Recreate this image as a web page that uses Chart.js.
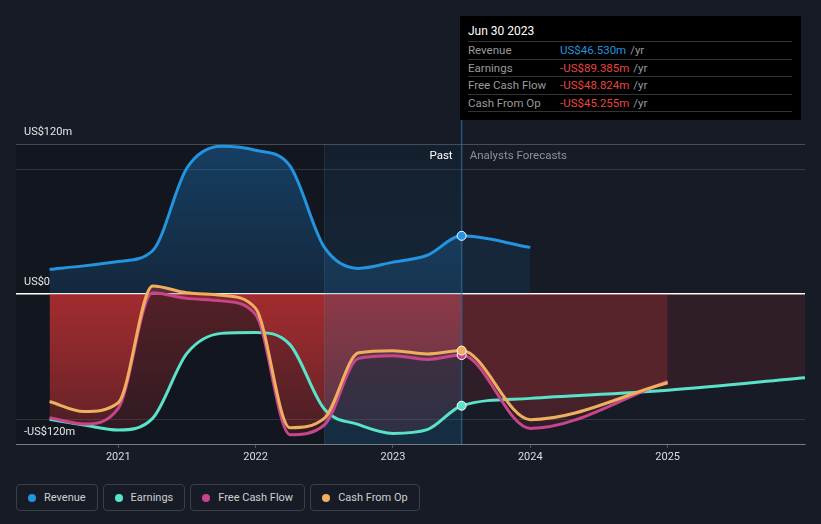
<!DOCTYPE html>
<html>
<head>
<meta charset="utf-8">
<script src="https://cdn.jsdelivr.net/npm/chart.js@4.4.0/dist/chart.umd.min.js"></script>
<style>
  html, body { margin: 0; padding: 0; background: #161b26; }
  body { width: 821px; height: 524px; position: relative; overflow: hidden; font-family: Roboto, "Noto Sans", sans-serif; }
  #wrap { position: absolute; left: 0; top: 0; width: 821px; height: 470px; }
  .tip { position: absolute; left: 460px; top: 16px; width: 341px; height: 104px; background: #000; box-sizing: border-box; padding: 0 9px 0 8px; }
  .tip .title { height: 19px; padding-top: 6px; line-height: 18px; color: #fff; font-size: 12px; border-bottom: 1px solid #333; }
  .tip .row { height: 16.5px; line-height: 17px; font-size: 11.5px; border-bottom: 1px solid #333; display: flex; }
  .tip .lab { width: 92px; color: #9a9a9a; }
  .tip .yr { color: #9a9a9a; margin-left: 4px; }
  .legend { position: absolute; left: 16px; top: 484px; display: flex; gap: 5px; }
  .legend .item { height: 27px; box-sizing: border-box; border: 1px solid #3a3f4a; border-radius: 4px; padding: 0 11px 0 11px; display: flex; align-items: center; font-size: 11px; color: #cfcfcf; }
  .legend .dot { width: 8px; height: 8px; border-radius: 50%; margin-right: 8px; }
</style>
</head>
<body>
<div id="wrap"><canvas id="financeChart" width="821" height="470"></canvas></div>
<div class="tip" id="tip"></div>
<div class="legend" id="legend"></div>
<script>
// Datos trimestrales (millones US$)
const quarters = [2020.5, 2020.75, 2021, 2021.25, 2021.5, 2021.75, 2022, 2022.25, 2022.5, 2022.75, 2023, 2023.25, 2023.5];
const revenue = [19.8, 22.5, 26, 34.6, 100.8, 118.2, 115, 102.5, 37.5, 20.5, 25.5, 31, 46.53];
const earnings = [-100.3, -104.8, -108.8, -99.5, -47.5, -31.5, -30.7, -40.5, -92, -104.5, -111.5, -108.5, -89.385];
const freeCashFlow = [-99, -104, -91.5, 1, -3.5, -5.5, -16.5, -112.5, -104.8, -51.5, -49.3, -52.3, -48.824];
const cashFromOp = [-86, -94, -87, 6.4, 1, -1, -11.5, -107, -99.5, -47, -45.3, -48, -45.255];

// Previsiones de analistas
const forecastYears = [2024, 2025, 2026];
const revenueForecast = [37.3];
const earningsForecast = [-83.5, -77, -67];
const freeCashFlowForecast = [-107.5, -70];
const cashFromOpForecast = [-100.5, -71];

const xTickValues = [2021, 2022, 2023, 2024, 2025];
const xTickLabels = ['2021', '2022', '2023', '2024', '2025'];
const yTickValues = [-120, -100, 0, 100, 120];
const yTickLabels = ['-US$120m', '', 'US$0', '', 'US$120m'];

const seriesNames = ['Revenue', 'Earnings', 'Free Cash Flow', 'Cash From Op'];
const seriesColors = ['#2394df', '#59e3c9', '#c7458a', '#eeb05f'];

const splitAt = 2023.5;   // Past | Analysts Forecasts
const bandStart = 2022.5;
const FONT = 'Roboto, "Noto Sans", sans-serif';

function points(past, fc) {
    return quarters.map((x, i) => ({x, y: past[i]}))
        .concat(fc.map((v, i) => ({x: forecastYears[i], y: v})));
}

// Degradados (se crean una vez)
const grads = {};
function blueFill(chart) {
    if (!chart.chartArea) return 'rgba(33,150,243,0.2)';
    if (!grads.blue) {
        const y = chart.scales.y;
        const g = chart.ctx.createLinearGradient(0, y.getPixelForValue(120), 0, y.getPixelForValue(0));
        g.addColorStop(0, 'rgba(33,150,243,0.32)');
        g.addColorStop(1, 'rgba(33,150,243,0.14)');
        grads.blue = g;
    }
    return grads.blue;
}
function redFill(chart) {
    if (!chart.chartArea) return 'rgba(230,55,55,0.25)';
    if (!grads.red) {
        const y = chart.scales.y;
        const g = chart.ctx.createLinearGradient(0, y.getPixelForValue(0), 0, y.getPixelForValue(-120));
        g.addColorStop(0, 'rgba(232,55,55,0.31)');
        g.addColorStop(1, 'rgba(232,55,55,0.13)');
        grads.red = g;
    }
    return grads.red;
}

function makeDataset(idx, past, fc, isRevenue) {
    const color = seriesColors[idx];
    return {
        label: seriesNames[idx],
        data: points(past, fc),
        borderColor: color,
        borderWidth: 3,
        cubicInterpolationMode: 'monotone',
        fill: 'origin',
        backgroundColor: ctx => isRevenue ? blueFill(ctx.chart) : redFill(ctx.chart),
        segment: {
            backgroundColor: ctx => ctx.p0.parsed.x >= splitAt
                ? (isRevenue ? 'rgba(33,150,243,0.10)' : 'rgba(230,60,60,0.12)')
                : undefined
        },
        pointRadius: ctx => (ctx.raw && ctx.raw.x === splitAt) ? 4.5 : 0,
        pointBackgroundColor: color,
        pointBorderColor: '#ffffff',
        pointBorderWidth: 1,
        pointHoverRadius: 0,
        order: 3 - idx
    };
}

// Fondo, franja resaltada y textos
const decorPlugin = {
    id: 'decor',
    beforeDraw(chart) {
        const {ctx, chartArea: a, scales: {x}} = chart;
        ctx.save();
        ctx.fillStyle = 'rgba(0,0,0,0.18)';
        ctx.fillRect(a.left, a.top, x.getPixelForValue(splitAt) - a.left, a.bottom - a.top);
        ctx.restore();
    },
    beforeDatasetsDraw(chart) {
        const {ctx, chartArea: a, scales: {x}} = chart;
        const x0 = x.getPixelForValue(bandStart);
        const x1 = x.getPixelForValue(splitAt);
        ctx.save();
        const g = ctx.createLinearGradient(0, a.top, 0, a.bottom);
        g.addColorStop(0, 'rgba(40,120,180,0.10)');
        g.addColorStop(1, 'rgba(40,120,180,0.24)');
        ctx.fillStyle = g;
        ctx.fillRect(x0, a.top, x1 - x0, a.bottom - a.top);
        ctx.strokeStyle = 'rgba(255,255,255,0.07)';
        ctx.lineWidth = 1;
        ctx.beginPath();
        ctx.moveTo(Math.round(x0) + 0.5, a.top);
        ctx.lineTo(Math.round(x0) + 0.5, a.bottom);
        ctx.stroke();
        ctx.strokeStyle = 'rgba(50,115,165,0.65)';
        ctx.lineWidth = 1.5;
        ctx.beginPath();
        ctx.moveTo(x1, 118);
        ctx.lineTo(x1, a.bottom);
        ctx.stroke();
        ctx.restore();
    },
    afterDraw(chart) {
        const {ctx, scales: {x}} = chart;
        const xs = x.getPixelForValue(splitAt);
        ctx.save();
        ctx.font = '11.5px ' + FONT;
        ctx.textBaseline = 'middle';
        ctx.textAlign = 'right';
        ctx.fillStyle = '#ffffff';
        ctx.fillText('Past', xs - 9, 156);
        ctx.textAlign = 'left';
        ctx.fillStyle = '#8c9099';
        ctx.fillText('Analysts Forecasts', xs + 8, 156);
        ctx.restore();
    }
};

const ctx = document.getElementById('financeChart').getContext('2d');
const chart = new Chart(ctx, {
    type: 'line',
    data: {
        datasets: [
            makeDataset(0, revenue, revenueForecast, true),
            makeDataset(1, earnings, earningsForecast, false),
            makeDataset(2, freeCashFlow, freeCashFlowForecast, false),
            makeDataset(3, cashFromOp, cashFromOpForecast, false)
        ]
    },
    options: {
        responsive: false,
        animation: false,
        events: [],
        layout: { padding: { top: 144, left: 16, right: 16, bottom: 0 } },
        plugins: {
            legend: { display: false },
            tooltip: { enabled: false },
            filler: { drawTime: 'beforeDatasetsDraw' }
        },
        scales: {
            x: {
                type: 'linear',
                min: 2020.2555,
                max: 2026.0,
                afterFit: axis => { axis.height = 26; },
                afterBuildTicks: axis => { axis.ticks = xTickValues.map(v => ({value: v})); },
                border: { display: true, color: 'rgba(255,255,255,0.25)' },
                grid: { drawOnChartArea: false, drawTicks: true, tickLength: 4, color: 'rgba(255,255,255,0.25)' },
                ticks: {
                    color: '#dcdcdc',
                    font: { size: 11, family: FONT },
                    padding: 3,
                    maxRotation: 0,
                    callback: v => xTickLabels[xTickValues.indexOf(v)]
                }
            },
            y: {
                min: -120,
                max: 120,
                afterFit: axis => { axis.width = 0; },
                afterBuildTicks: axis => { axis.ticks = yTickValues.map(v => ({value: v})); },
                border: { display: false },
                grid: {
                    drawTicks: false,
                    color: c => c.tick.value === 0 ? '#ffffff'
                        : (Math.abs(c.tick.value) === 120 ? 'rgba(255,255,255,0.22)' : 'rgba(255,255,255,0.12)'),
                    lineWidth: c => c.tick.value === 0 ? 1.5 : 1
                },
                ticks: {
                    mirror: true,
                    padding: 8,
                    labelOffset: -12,
                    color: '#e6e6e6',
                    font: { size: 11, family: FONT },
                    callback: v => yTickLabels[yTickValues.indexOf(v)]
                }
            }
        }
    },
    plugins: [decorPlugin]
});

// Tooltip fijo (Jun 30 2023)
function fmt(v) {
    return (v < 0 ? '-' : '') + 'US$' + Math.abs(v).toFixed(3) + 'm';
}
const last = quarters.length - 1;
const tipValues = [revenue[last], earnings[last], freeCashFlow[last], cashFromOp[last]];
let tipHtml = '<div class="title">Jun 30 2023</div>';
seriesNames.forEach((name, i) => {
    const col = tipValues[i] < 0 ? '#e8453f' : '#2394df';
    tipHtml += '<div class="row"><span class="lab">' + name + '</span><span style="color:' + col + '">' +
        fmt(tipValues[i]) + '</span><span class="yr">/yr</span></div>';
});
document.getElementById('tip').innerHTML = tipHtml;

// Leyenda
document.getElementById('legend').innerHTML = seriesNames.map((name, i) =>
    '<div class="item"><span class="dot" style="background:' + seriesColors[i] + '"></span>' + name + '</div>'
).join('');
</script>
</body>
</html>
